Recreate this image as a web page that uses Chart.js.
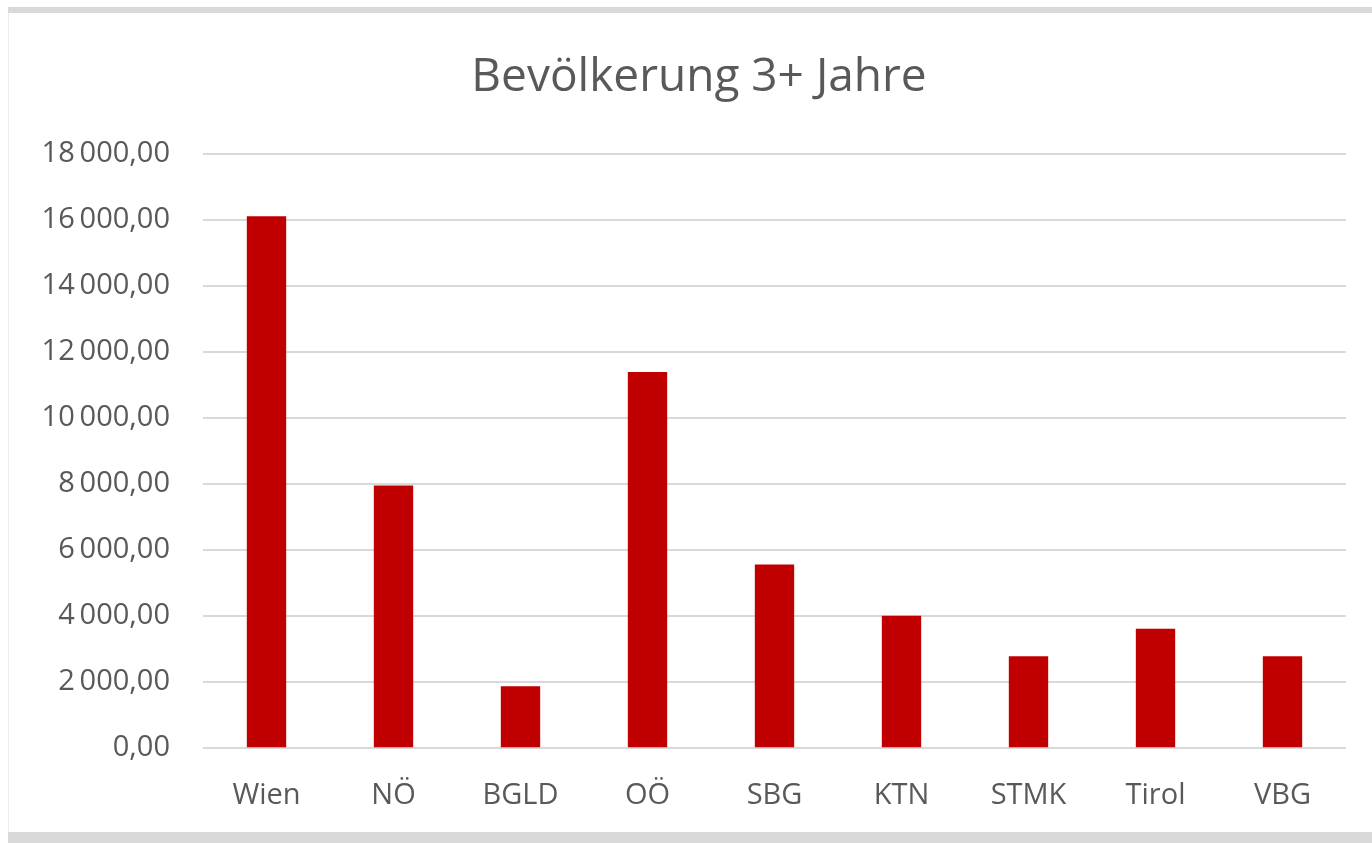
<!DOCTYPE html>
<html>
<head>
<meta charset="utf-8">
<script src="https://cdn.jsdelivr.net/npm/chart.js@4/dist/chart.umd.min.js"></script>
<style>
  html, body { margin: 0; padding: 0; background: #ffffff; }
  #wrap { position: relative; width: 1372px; height: 843px; overflow: hidden; }
  #topband { position: absolute; left: 8px; right: 0; top: 7px; height: 6px; background: #d9d9d9; }
  #botband { position: absolute; left: 8px; right: 0; top: 832px; height: 11px; background: #d9d9d9; }
  #leftline { position: absolute; left: 8px; top: 13px; width: 1px; height: 819px; background: #ececec; }
  canvas { position: absolute; left: 0; top: 0; }
</style>
</head>
<body>
<div id="wrap">
  <div id="topband"></div>
  <div id="leftline"></div>
  <div id="botband"></div>
  <canvas id="c" width="1372" height="843"></canvas>
</div>
<script>
const categories = ["Wien", "NÖ", "BGLD", "OÖ", "SBG", "KTN", "STMK", "Tirol", "VBG"];
const values = [16120, 7960, 1880, 11400, 5570, 4010, 2790, 3620, 2790];
const chartTitle = "Bevölkerung 3+ Jahre";
const yMin = 0, yMax = 18000, yStep = 2000;

function fmt(v) {
  const parts = Number(v).toFixed(2).split(".");
  const intPart = parts[0].replace(/\B(?=(\d{3})+(?!\d))/g, "\u2009");
  return intPart + "," + parts[1];
}

// center the title over the area from x=52 to the plot's right edge
const titleShift = {
  id: "titleShift",
  afterLayout(chart) {
    if (chart.titleBlock) chart.titleBlock.left += 52;
  }
};

new Chart(document.getElementById("c"), {
  type: "bar",
  data: {
    labels: categories,
    datasets: [{
      data: values,
      backgroundColor: "#c00000",
      borderWidth: 0,
      categoryPercentage: 1.0,
      barPercentage: 0.31
    }]
  },
  plugins: [titleShift],
  options: {
    responsive: false,
    animation: false,
    layout: { padding: { left: 0, right: 26, top: 30, bottom: 0 } },
    plugins: {
      legend: { display: false },
      tooltip: { enabled: false },
      title: {
        display: true,
        text: chartTitle,
        color: "#595959",
        font: { family: "Open Sans", size: 46, weight: "normal" },
        padding: { top: 20, bottom: 49 }
      }
    },
    scales: {
      x: {
        grid: { display: false, drawTicks: false },
        border: { display: false },
        ticks: {
          color: "#595959",
          font: { family: "Open Sans", size: 29 },
          padding: 30
        }
      },
      y: {
        min: yMin,
        max: yMax,
        ticks: {
          stepSize: yStep,
          color: "#595959",
          font: { family: "Open Sans", size: 29 },
          padding: 33,
          callback: (v) => fmt(v)
        },
        grid: { color: "#d9d9d9", lineWidth: 2, drawTicks: false },
        border: { display: false },
        afterFit: (scale) => { scale.width = 203; }
      }
    }
  }
});
</script>
</body>
</html>
